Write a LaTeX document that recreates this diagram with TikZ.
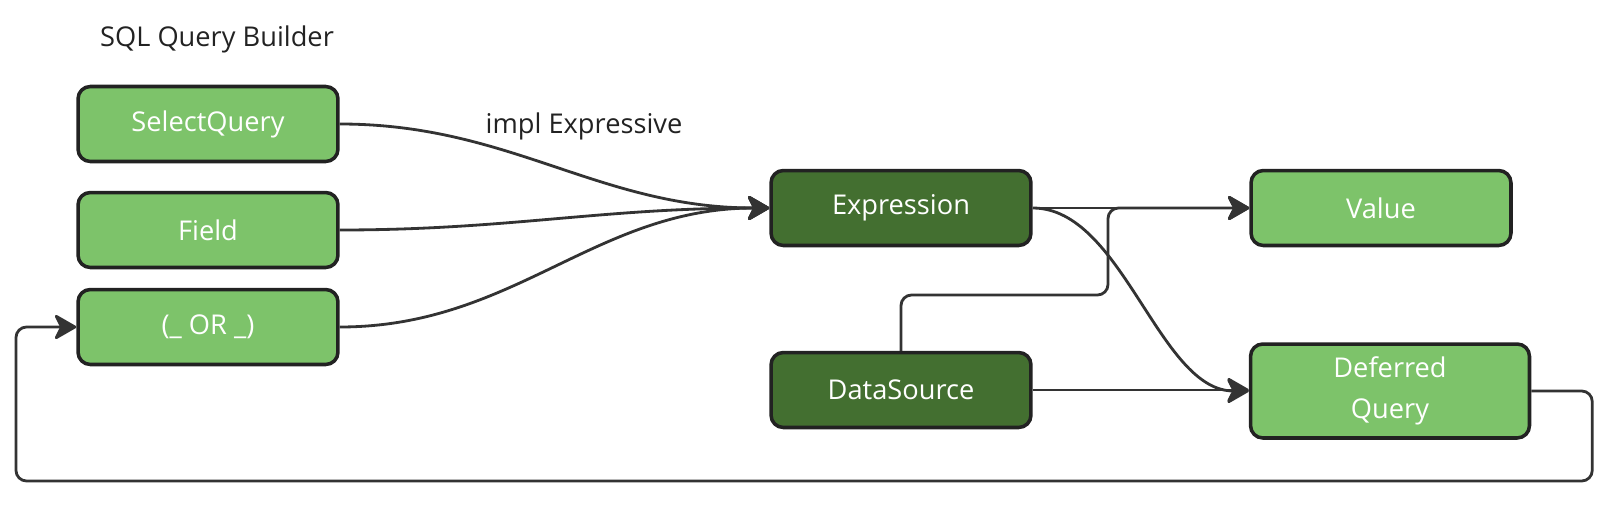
\documentclass[tikz,border=0pt]{standalone}
\usepackage{fontspec}
\setmainfont{Open Sans}
\usetikzlibrary{arrows.meta}
\definecolor{leaf}{HTML}{7DC36A}
\definecolor{moss}{HTML}{436F30}
\definecolor{ink}{HTML}{222222}
\definecolor{wirecol}{HTML}{333333}

\begin{document}
\begin{tikzpicture}[
    x=0.02cm, y=-0.02cm,
    >={Stealth[length=14pt,width=16pt,inset=4pt,round]},
    label/.style={text=ink,font=\fontsize{15.5}{19}\selectfont},
    box/.style={draw=ink,line width=2pt,rounded corners=7pt,fill=leaf,text=white,
        minimum width=5.2cm,minimum height=1.5cm,align=center,
        font=\fontsize{15.5}{23}\selectfont},
    darkbox/.style={box,fill=moss},
    wire/.style={->,wirecol,line width=1.6pt},
]
\useasboundingbox (0,0) rectangle (1612,510);

\node[label] (title) at (217,39) {SQL Query Builder};

% builder parts
\node[box] (sel) at (208,124) {SelectQuery};
\node[box] (fld) at (208,230) {Field};
\node[box] (orq) at (208,327) {(\_ OR \_)};

% core
\node[darkbox] (expr) at (901,208) {Expression};
\node[darkbox] (ds) at (901,390) {DataSource};

% results
\node[box] (val) at (1381,208) {Value};
\node[box,minimum width=5.58cm,minimum height=1.88cm] (dq) at (1390,391) {Deferred\\Query};

\node[label] (impl) at (584,126) {impl Expressive};

% into Expression
\draw[wire] (sel.east) to[out=0,in=180] (expr.west);
\draw[wire] (fld.east) to[out=0,in=180] (expr.west);
\draw[wire] (orq.east) to[out=0,in=180] (expr.west);

% out of Expression and DataSource
\draw[wire] (expr.east) -- (val.west);
\draw[wire,rounded corners=6pt] (ds.north) |- (1108,295) |- (val.west);
\draw[wire] (expr.east) .. controls +(90,0) and +(-90,0) .. (dq.west);
\draw[wire] (ds.east) -- (ds.east -| dq.west);

% back round to the start
\draw[wire,rounded corners=6pt] (dq.east) -- ++(61,0) |- (16,481) |- (orq.west);
\end{tikzpicture}
\end{document}
